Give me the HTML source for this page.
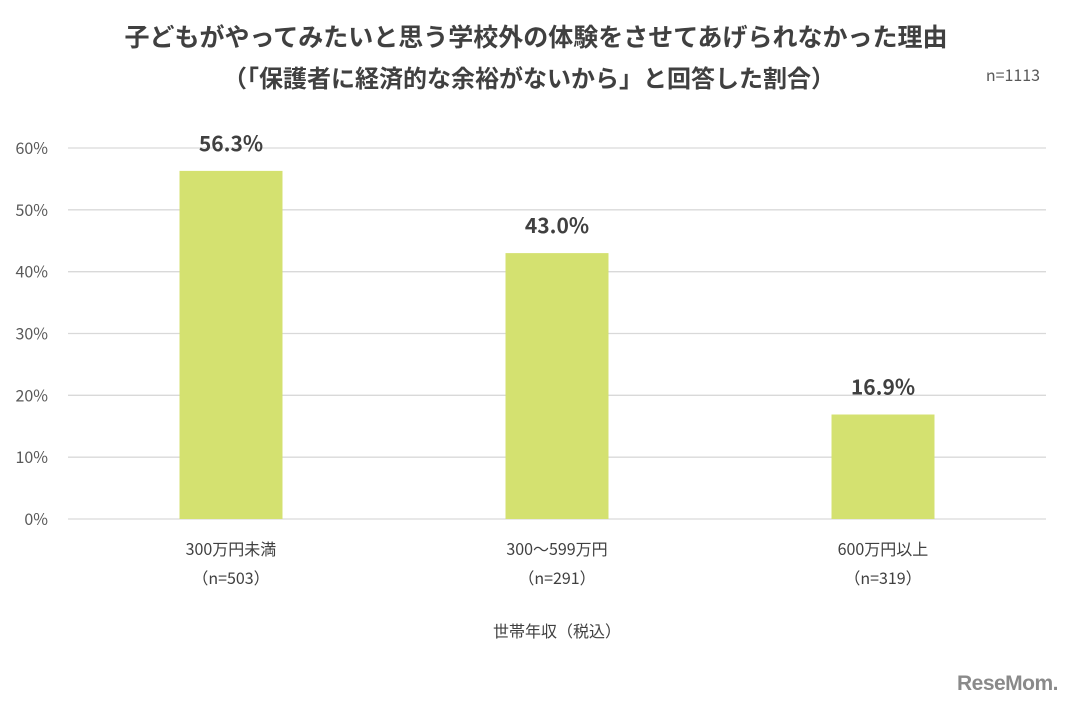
<!DOCTYPE html>
<html><head><meta charset="utf-8"><style>
body{margin:0;background:#fff;width:1072px;height:704px;overflow:hidden;font-family:"Noto Sans CJK JP","Liberation Sans",sans-serif}
</style></head><body>
<svg width="1072" height="704" xmlns="http://www.w3.org/2000/svg" style="font-family:'Noto Sans CJK JP','Liberation Sans',sans-serif">
<text x="536" y="46" text-anchor="middle" font-size="25" font-weight="bold" fill="#404040">子どもがやってみたいと思う学校外の体験をさせてあげられなかった理由</text>
<text x="529" y="87" text-anchor="middle" font-size="24" font-weight="bold" fill="#404040">（「保護者に経済的な余裕がないから」と回答した割合）</text>
<text x="1040" y="81" text-anchor="end" font-size="16" fill="#595959">n=1113</text>
<g id="grid"></g><g id="bars"></g><g id="cats"></g>
<text x="557" y="637" text-anchor="middle" font-size="16" fill="#404040">世帯年収（税込）</text>
<text x="1058" y="690" text-anchor="end" font-size="21" font-weight="bold" fill="#8a8a8a" letter-spacing="-0.5" font-family="Liberation Sans, sans-serif">ReseMom.</text>
</svg>
<script>
const categories=["300万円未満","300～599万円","600万円以上"];
const sampleSizes=["(n=503)","(n=291)","(n=319)"];
const values=[56.3,43.0,16.9];
const ticks=[0,10,20,30,40,50,60];
const NS="http://www.w3.org/2000/svg";
const x0=68,x1=1046,yBase=519,yTop=148,maxV=60;
const y=v=>yBase-(v/maxV)*(yBase-yTop);
const band=(x1-x0)/categories.length;
const xc=i=>x0+band*(i+0.5);
function mk(tag,attrs,parent,text){const e=document.createElementNS(NS,tag);for(const k in attrs)e.setAttribute(k,attrs[k]);if(text!==undefined)e.textContent=text;parent.appendChild(e);return e;}
const grid=document.getElementById('grid'),bars=document.getElementById('bars'),cats=document.getElementById('cats');
ticks.forEach(t=>{
 const l=mk('line',{x1:x0,x2:x1,y1:y(t),y2:y(t),stroke:'#d9d9d9','stroke-width':1.3},grid);
 
 
 const tx=mk('text',{x:48,y:y(t)+6,'text-anchor':'end','font-size':16,fill:'#595959'},grid,t+'%');
 
 
});
const bw=103;
values.forEach((v,i)=>{
 const r=mk('rect',{x:xc(i)-bw/2,y:y(v),width:bw,height:yBase-y(v),fill:'#d4e170'},bars);
 
 
 const lb=mk('text',{x:xc(i),y:y(v)-20,'text-anchor':'middle','font-size':21,'font-weight':'bold',fill:'#404040'},bars,v.toFixed(1)+'%');
 
 
 const c=mk('text',{x:xc(i),y:555,'text-anchor':'middle','font-size':16,fill:'#404040'},cats,categories[i]);
 
 
 const n=mk('text',{x:xc(i),y:584,'text-anchor':'middle','font-size':16,fill:'#404040'},cats,sampleSizes[i].replace('(','（').replace(')','）'));
 
 
});
</script>
</body></html>
